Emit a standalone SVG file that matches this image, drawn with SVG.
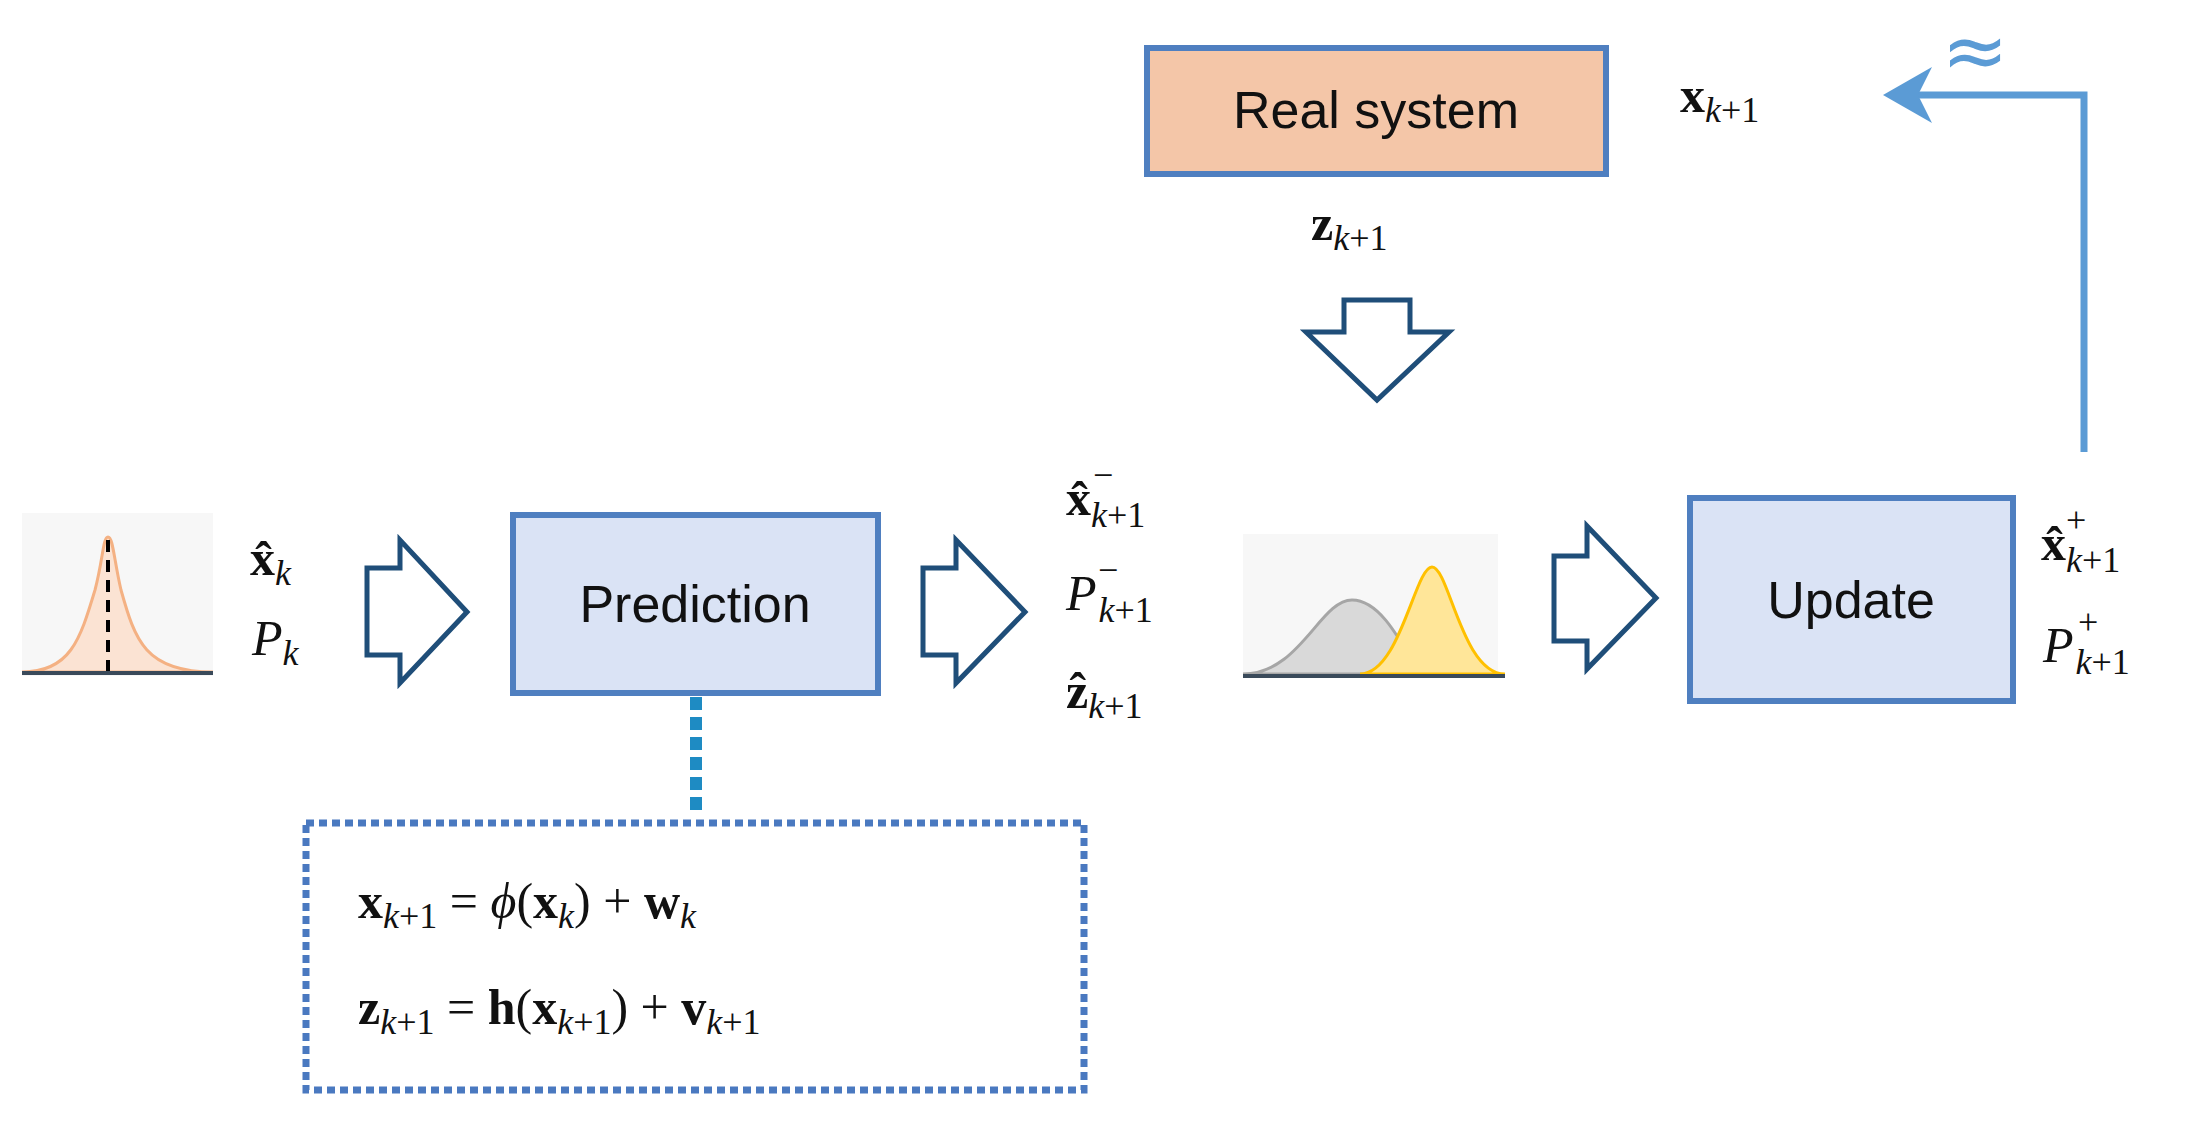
<svg xmlns="http://www.w3.org/2000/svg" width="2199" height="1122" viewBox="0 0 2199 1122">
<defs>
<style>
.box{fill:#dae3f5;stroke:#4f7fc0;stroke-width:6}
.lbl{font-family:"Liberation Sans",Arial,sans-serif;font-size:52px;fill:#111;text-anchor:middle}
.m{font-family:"Liberation Serif","Times New Roman",serif;font-size:50px;fill:#111}
.b{font-weight:bold}
.i{font-style:italic}
.s{font-size:36px}
.hol{fill:#fff;stroke:#1f4e79;stroke-width:5;stroke-linejoin:miter}
</style>
<marker id="ah" markerWidth="8" markerHeight="8" refX="6" refY="4" orient="auto" markerUnits="strokeWidth"><path d="M0,0 L7,4 L0,8 L2,4 Z" fill="#5b9bd5"/></marker>
</defs>
<rect width="2199" height="1122" fill="#fff"/>

<g id="prior">
<rect x="22" y="513" width="191" height="163" fill="#f7f7f7"/>
<path d="M22,672 C70,672 80,640 95,590 C103,560 103,537 108,537 C113,537 114,560 121,590 C135,640 145,672 213,672 Z" fill="#fbe3d3" stroke="#f4b183" stroke-width="3"/>
<line x1="108" y1="540" x2="108" y2="672" stroke="#000" stroke-width="4" stroke-dasharray="12,8"/>
<line x1="22" y1="673" x2="213" y2="673" stroke="#3a4a5a" stroke-width="4"/>
</g>
<g id="lbl-prior">
<text class="m" x="250" y="575"><tspan class="b">x̂</tspan><tspan class="i s" dy="10">k</tspan></text>
<text class="m" x="252" y="655"><tspan class="i">P</tspan><tspan class="i s" dy="10">k</tspan></text>
</g>
<g id="arrow1"><path class="hol" d="M367,568 H400 V540 L467,612 L400,683 V655 H367 Z"/></g>
<g id="prediction"><rect class="box" x="513" y="515" width="365" height="178"/><text class="lbl" x="695" y="622">Prediction</text></g>
<g id="arrow2"><path class="hol" d="M923,568 H956 V540 L1025,612 L956,683 V655 H923 Z"/></g>
<g id="lbl-pred">
<text class="m" x="1066" y="515"><tspan class="b">x̂</tspan><tspan class="i s" dy="12">k</tspan><tspan class="s">+1</tspan><tspan class="s" x="1093" dy="-40">−</tspan></text>
<text class="m" x="1066" y="610"><tspan class="i">P</tspan><tspan class="i s" dx="2" dy="12">k</tspan><tspan class="s">+1</tspan><tspan class="s" x="1098" dy="-40">−</tspan></text>
<text class="m" x="1066" y="708"><tspan class="b">ẑ</tspan><tspan class="i s" dy="10">k</tspan><tspan class="s">+1</tspan></text>
</g>
<g id="fusion">
<rect x="1243" y="534" width="255" height="143" fill="#f7f7f7"/>
<path d="M1243,674 C1300,674 1320,600 1352,600 C1380,600 1400,640 1420,674 Z" fill="#d9d9d9" stroke="#a6a6a6" stroke-width="3"/>
<path d="M1360,674 C1400,674 1415,567 1432,567 C1449,567 1462,674 1505,674 Z" fill="#ffe699" stroke="#ffc000" stroke-width="3"/>
<line x1="1243" y1="676" x2="1505" y2="676" stroke="#3a4a5a" stroke-width="4"/>
</g>
<g id="arrow3"><path class="hol" d="M1554,556 H1587 V526 L1656,598 L1587,669 V641 H1554 Z"/></g>
<g id="update"><rect class="box" x="1690" y="498" width="323" height="203"/><text class="lbl" x="1851" y="618">Update</text></g>
<g id="lbl-upd">
<text class="m" x="2041" y="560"><tspan class="b">x̂</tspan><tspan class="i s" dy="12">k</tspan><tspan class="s">+1</tspan><tspan class="s" x="2066" dy="-40">+</tspan></text>
<text class="m" x="2043" y="662"><tspan class="i">P</tspan><tspan class="i s" dx="2" dy="12">k</tspan><tspan class="s">+1</tspan><tspan class="s" x="2078" dy="-40">+</tspan></text>
</g>
<g id="realsystem"><rect x="1147" y="48" width="459" height="126" fill="#f4c6a8" stroke="#4f7fc0" stroke-width="6"/><text class="lbl" x="1376" y="128">Real system</text></g>
<g id="lbl-real">
<text class="m" x="1680" y="112"><tspan class="b">x</tspan><tspan class="i s" dy="10">k</tspan><tspan class="s">+1</tspan></text>
<text class="m" x="1311" y="240"><tspan class="b">z</tspan><tspan class="i s" dy="10">k</tspan><tspan class="s">+1</tspan></text>
<text x="1975" y="78" font-family="DejaVu Sans,sans-serif" font-size="80" fill="#5b9bd5" text-anchor="middle">≈</text>
</g>
<g id="arrow-down"><path class="hol" d="M1344,300 H1410 V332 H1449 L1377,400 L1306,332 H1344 Z"/></g>
<g id="model">
<rect x="306" y="823" width="778" height="267" fill="none" stroke="#4a79c0" stroke-width="7" stroke-dasharray="8,5"/>
<text class="m" x="358" y="918" font-size="54"><tspan class="b">x</tspan><tspan class="i s" dy="10">k</tspan><tspan class="s">+1</tspan><tspan dy="-10"> = </tspan><tspan class="i">ϕ</tspan><tspan>(</tspan><tspan class="b">x</tspan><tspan class="i s" dy="10">k</tspan><tspan dy="-10">) + </tspan><tspan class="b">w</tspan><tspan class="i s" dy="10">k</tspan></text>
<text class="m" x="358" y="1024" font-size="54"><tspan class="b">z</tspan><tspan class="i s" dy="10">k</tspan><tspan class="s">+1</tspan><tspan dy="-10"> = </tspan><tspan class="b">h</tspan><tspan>(</tspan><tspan class="b">x</tspan><tspan class="i s" dy="10">k</tspan><tspan class="s">+1</tspan><tspan dy="-10">) + </tspan><tspan class="b">v</tspan><tspan class="i s" dy="10">k</tspan><tspan class="s">+1</tspan></text>
</g>
<g id="connectors">
<line x1="696" y1="697" x2="696" y2="816" stroke="#1e8bc3" stroke-width="12" stroke-dasharray="13,7"/>
<polyline points="2084,452 2084,95 1890,95" fill="none" stroke="#5b9bd5" stroke-width="7" marker-end="url(#ah)"/>
</g>
</svg>
